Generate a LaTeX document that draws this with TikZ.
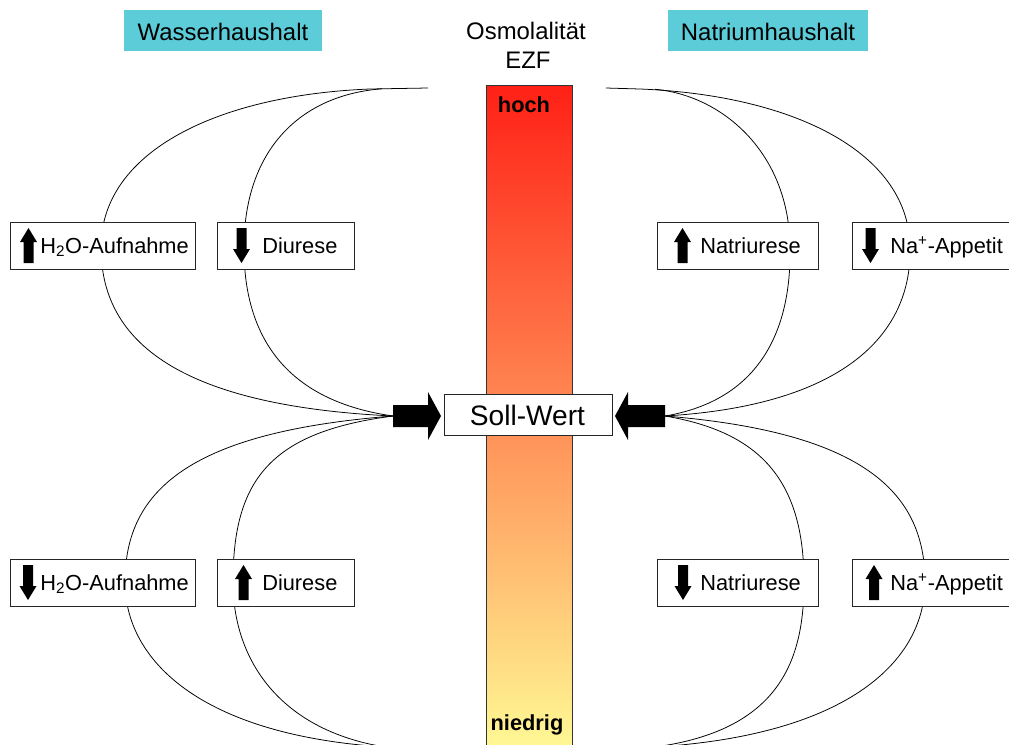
\documentclass[tikz,border=0pt]{standalone}
\usepackage{fontspec}
\setmainfont{Liberation Sans}
\usetikzlibrary{fit}
\definecolor{titlecyan}{RGB}{92,204,216}
\definecolor{barred}{RGB}{255,32,22}
\definecolor{barorange}{RGB}{254,172,100}
\definecolor{baryellow}{RGB}{255,248,148}
\begin{document}
\begin{tikzpicture}[x=0.025cm,y=-0.025cm,
  box/.style={draw=black!85, line width=0.7pt, fill=white, inner sep=0pt},
  lbl/.style={inner sep=0pt, anchor=base west, font=\fontsize{15.5}{18}\selectfont},
  ctext/.style={inner sep=0pt, anchor=base},
  curve/.style={draw=black, line width=0.55pt},
  titlebox/.style={fill=titlecyan, inner sep=0pt},
  upa/.pic={\fill (-5,17.5) -- (-5,-3.5) -- (-8.5,-3.5) -- (0,-17.5) -- (8.5,-3.5) -- (5,-3.5) -- (5,17.5) -- cycle;},
  downa/.pic={\fill (-5,-17.5) -- (-5,3.5) -- (-8.5,3.5) -- (0,17.5) -- (8.5,3.5) -- (5,3.5) -- (5,-17.5) -- cycle;}]
\clip (0,0) rectangle (1009,745);
\fill[white] (0,0) rectangle (1009,745);

% titles
\node[titlebox, fit={(124,10)(322,51)}] (tw) {};
\node[ctext, font=\fontsize{17}{20}\selectfont] (twt) at (223,40) {Wasserhaushalt};
\node[titlebox, fit={(668,10)(868,51)}] (tn) {};
\node[ctext, font=\fontsize{17}{20}\selectfont] (tnt) at (768,40) {Natriumhaushalt};
\node[ctext, font=\fontsize{17}{20}\selectfont] (osm) at (526,39) {Osmolalität};
\node[ctext, font=\fontsize{17}{20}\selectfont] (ezf) at (528,68) {EZF};

% bar
\node[fit={(486,85)(572,746)}, inner sep=0pt, draw=black!80, line width=0.6pt,
      top color=barred, middle color=barorange, bottom color=baryellow] (bar) {};
\node[ctext, font=\fontsize{15.5}{18}\selectfont\bfseries] (hoch) at (524,112) {hoch};
\node[ctext, font=\fontsize{15.5}{18}\selectfont\bfseries] (niedrig) at (527,730) {niedrig};

% end points
\coordinate (tailL) at (393,416);
\coordinate (tailR) at (665,416);
\coordinate (topL) at (428,88);
\coordinate (topR) at (606,88);
\coordinate (botL) at (385,747);
\coordinate (botR) at (655,747);

% curves upper left
\draw[curve] (topL) -- (370,89) .. controls (220,95) and (103,150) .. (101,245) .. controls (100,330) and (160,405) .. (tailL);
\draw[curve] (382,88.8) .. controls (300,95) and (245,150) .. (244,245) .. controls (243,330) and (280,400) .. (tailL);
% lower left
\draw[curve] (tailL) .. controls (190,432) and (125,490) .. (125,582) .. controls (125,660) and (200,735) .. (botL);
\draw[curve] (tailL) .. controls (270,432) and (233,480) .. (233,582) .. controls (233,660) and (280,730) .. (botL);
% upper right
\draw[curve] (topR) -- (640,89) .. controls (790,95) and (907,150) .. (910,245) .. controls (913,330) and (850,405) .. (tailR);
\draw[curve] (655,89.3) .. controls (720,95) and (788,150) .. (790,245) .. controls (792,330) and (760,400) .. (tailR);
% lower right
\draw[curve] (tailR) .. controls (860,432) and (925,490) .. (925,582) .. controls (925,660) and (850,735) .. (botR);
\draw[curve] (tailR) .. controls (760,432) and (804,480) .. (804,582) .. controls (804,660) and (780,730) .. (botR);

% big arrows
\fill (tailL) -- (393,405) -- (428,405) -- (428,392) -- (441,416) -- (428,440) -- (428,427) -- (393,427) -- cycle;
\fill (tailR) -- (665,405) -- (628,405) -- (628,392) -- (615,416) -- (628,440) -- (628,427) -- (665,427) -- cycle;

% Soll-Wert
\node[box, fit={(444,394)(612,435)}] (soll) {};
\node[ctext, font=\fontsize{20}{24}\selectfont] (sollt) at (527.5,425) {Soll-Wert};

% upper boxes
\node[box, fit={(10,222)(195,269)}] (b1) {};
\node[box, fit={(217,222)(354,269)}] (b2) {};
\node[box, fit={(657,222)(818,269)}] (b3) {};
\node[box, fit={(852,222)(1015,269)}] (b4) {};
\pic at (28.5,245.5) {upa};
\pic at (241.5,245.5) {downa};
\pic at (682.5,245.5) {upa};
\pic at (870.5,245.5) {downa};
\node[lbl] (t1) at (40,253) {H\textsubscript{2}O-Aufnahme};
\node[lbl] (t2) at (262,253) {Diurese};
\node[lbl] (t3) at (700,253) {Natriurese};
\node[lbl] (t4) at (890,253) {Na\textsuperscript{+}-Appetit};

% lower boxes
\node[box, fit={(10,559)(195,606)}] (b5) {};
\node[box, fit={(217,559)(354,606)}] (b6) {};
\node[box, fit={(657,559)(818,606)}] (b7) {};
\node[box, fit={(852,559)(1015,606)}] (b8) {};
\pic at (28,582.5) {downa};
\pic at (243.5,582.5) {upa};
\pic at (683,582.5) {downa};
\pic at (874,582.5) {upa};
\node[lbl] (t5) at (40,590) {H\textsubscript{2}O-Aufnahme};
\node[lbl] (t6) at (262,590) {Diurese};
\node[lbl] (t7) at (700,590) {Natriurese};
\node[lbl] (t8) at (890,590) {Na\textsuperscript{+}-Appetit};
\end{tikzpicture}
\end{document}
